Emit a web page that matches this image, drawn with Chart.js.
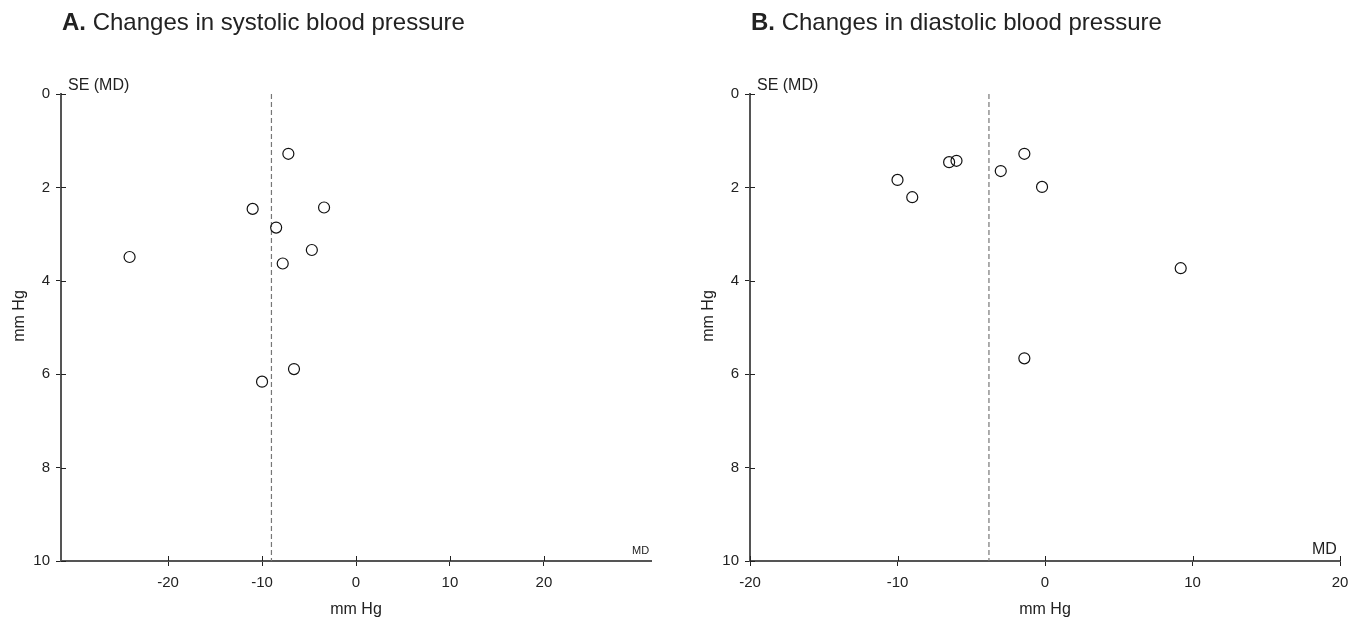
<!DOCTYPE html>
<html>
<head>
<meta charset="utf-8">
<script src="https://cdn.jsdelivr.net/npm/chart.js@4"></script>
<style>
  body { margin: 0; background: #fff; font-family: "Liberation Sans", Arial, sans-serif; color: #222; }
  #wrap { position: relative; width: 1363px; height: 617px; overflow: hidden; }
  canvas { position: absolute; top: 0; }
  .lbl { position: absolute; white-space: nowrap; color: #222; }
  .title { font-size: 24px; line-height: 24px; top: 10px; }
  .se { font-size: 16px; line-height: 16px; top: 77px; }
  .ytitle { font-size: 16px; line-height: 16px; top: 308px; width: 60px; text-align: center; transform: rotate(-90deg); }
</style>
</head>
<body>
<div id="wrap">
  <canvas id="chartA" width="681" height="617" style="left:0px"></canvas>
  <canvas id="chartB" width="674" height="617" style="left:689px"></canvas>
  <div class="lbl title" style="left:62px"><b>A.</b> Changes in systolic blood pressure</div>
  <div class="lbl title" style="left:751px"><b>B.</b> Changes in diastolic blood pressure</div>
  <div class="lbl se" style="left:68px">SE (MD)</div>
  <div class="lbl se" style="left:757px">SE (MD)</div>
  <div class="lbl ytitle" style="left:-11px">mm Hg</div>
  <div class="lbl ytitle" style="left:678px">mm Hg</div>
  <div class="lbl" style="left:632px;top:545px;font-size:11px;line-height:11px">MD</div>
  <div class="lbl" style="left:1312px;top:541px;font-size:16px;line-height:16px">MD</div>
</div>
<script>
// systolic (A)
const sbpMD = [-7.2, -11.0, -3.4, -8.5, -4.7, -7.8, -24.1, -10.0, -6.6];
const sbpSE = [1.28, 2.46, 2.43, 2.86, 3.34, 3.63, 3.49, 6.16, 5.89];
const sbpPooled = -9.0;

// diastolic (B)
const dbpMD = [-10.0, -9.0, -6.5, -6.0, -3.0, -1.4, -0.2, 9.2, -1.4];
const dbpSE = [1.84, 2.21, 1.46, 1.43, 1.65, 1.28, 1.99, 3.73, 5.66];
const dbpPooled = -3.8;

const xTicksA = [-20, -10, 0, 10, 20];
const xTicksB = [-20, -10, 0, 10, 20];
const yTicks = [0, 2, 4, 6, 8, 10];

// tick marks that also poke into the plot area
const innerTicks = {
  id: 'innerTicks',
  afterDatasetsDraw(chart) {
    const { ctx } = chart;
    const x = chart.scales.x, y = chart.scales.y;
    ctx.save();
    ctx.strokeStyle = '#222';
    ctx.lineWidth = 1;
    x.ticks.forEach(t => {
      const px = Math.round(x.getPixelForValue(t.value)) + 0.5;
      ctx.beginPath(); ctx.moveTo(px, x.top); ctx.lineTo(px, x.top - 5); ctx.stroke();
    });
    y.ticks.forEach(t => {
      const py = Math.round(y.getPixelForValue(t.value)) + 0.5;
      ctx.beginPath(); ctx.moveTo(y.right, py); ctx.lineTo(y.right + 5, py); ctx.stroke();
    });
    ctx.restore();
  }
};

function makeChart(id, mds, ses, pooled, xmin, xmax, xticks, rightPad) {
  const pts = mds.map((m, i) => ({ x: m, y: ses[i] }));
  return new Chart(document.getElementById(id), {
    type: 'scatter',
    data: {
      datasets: [
        {
          data: pts,
          pointStyle: 'circle',
          pointRadius: 5.5,
          pointHoverRadius: 5.5,
          borderColor: '#111',
          borderWidth: 1.2,
          backgroundColor: 'rgba(0,0,0,0)',
          clip: false
        },
        {
          type: 'line',
          data: [{ x: pooled, y: 0 }, { x: pooled, y: 10 }],
          borderColor: '#777',
          borderWidth: 1.2,
          borderDash: [5, 3],
          pointRadius: 0,
          fill: false
        }
      ]
    },
    options: {
      responsive: false,
      animation: false,
      events: [],
      layout: { padding: { top: 94, right: rightPad, left: 0, bottom: 0 } },
      plugins: { legend: { display: false }, tooltip: { enabled: false } },
      scales: {
        x: {
          type: 'linear',
          min: xmin,
          max: xmax,
          afterBuildTicks: s => { s.ticks = xticks.map(v => ({ value: v })); },
          afterFit: s => { s.height = 56; },
          grid: { drawOnChartArea: false, drawTicks: true, tickLength: 5, color: '#222', lineWidth: 1 },
          border: { display: true, color: '#555', width: 2 },
          ticks: { padding: 8, color: '#222', font: { family: 'Liberation Sans', size: 15 } },
          title: { display: true, text: 'mm Hg', color: '#222', padding: { top: 0, bottom: -2 }, font: { family: 'Liberation Sans', size: 16 } }
        },
        y: {
          type: 'linear',
          reverse: true,
          min: 0,
          max: 10,
          afterBuildTicks: s => { s.ticks = yTicks.map(v => ({ value: v })); },
          afterFit: s => { s.width = 61; },
          grid: { drawOnChartArea: false, drawTicks: true, tickLength: 5, color: '#222', lineWidth: 1 },
          border: { display: true, color: '#555', width: 2 },
          ticks: { padding: 6, color: '#222', font: { family: 'Liberation Sans', size: 15 } },
          title: { display: false }
        }
      }
    },
    plugins: [innerTicks]
  });
}

makeChart('chartA', sbpMD, sbpSE, sbpPooled, -31.4, 31.4, xTicksA, 30);
makeChart('chartB', dbpMD, dbpSE, dbpPooled, -20, 20, xTicksB, 23);
</script>
</body>
</html>
